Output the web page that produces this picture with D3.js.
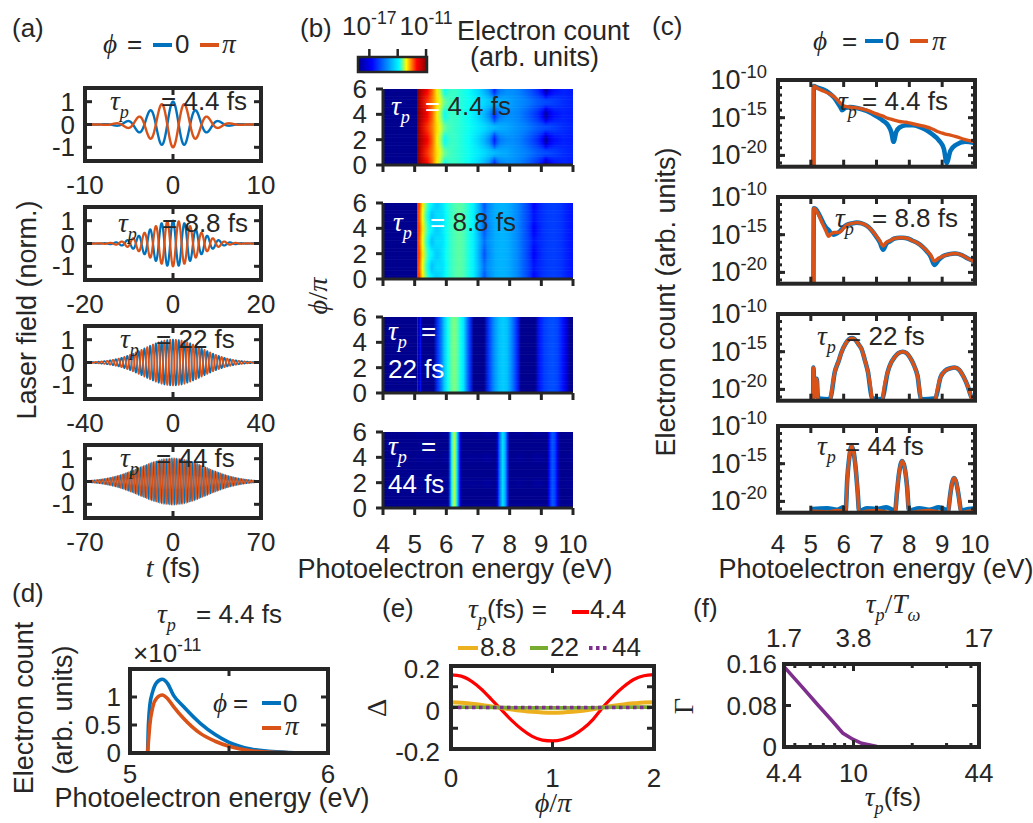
<!DOCTYPE html>
<html>
<head>
<meta charset="utf-8">
<script src="https://cdn.jsdelivr.net/npm/d3@7"></script>
<style>
body { margin: 0; background: #fff; }
text { font-family: "Liberation Sans", Arial, Helvetica, sans-serif; fill: #262626; }
.m { font-family: "Liberation Serif", "DejaVu Serif", serif; font-style: italic; }
.u { font-family: "Liberation Serif", "DejaVu Serif", serif; }
</style>
</head>
<body>
<svg id="fig" width="1033" height="823"></svg>
<script>
// ---------------- data ----------------

// (a) laser pulses (fs): intensity FWHM, half width of the plotted window, carrier period
var pulseTau = [4.4, 8.8, 22, 44];
var pulseWin = [10, 20, 40, 70];
var carrierPeriod = 2.6;
var cepPhase = [0, Math.PI];

// (b)/(c) photoelectron spectra, log10(count), for phi = 0 and phi = pi
var energy4p4 = [4.0, 5.07, 5.09, 5.2, 5.4, 5.55, 5.7, 5.8, 5.9, 5.95, 6.05, 6.2, 6.4, 6.7, 7.0, 7.2, 7.35, 7.45, 7.52, 7.6, 7.7, 7.9, 8.1, 8.3, 8.5, 8.7, 8.9, 9.05, 9.14, 9.25, 9.42, 9.7, 10.0];
var phi0_4p4 = [-30, -30, -10.8, -11.0, -11.3, -11.7, -12.3, -12.9, -13.6, -14.0, -13.7, -13.6, -13.7, -14.1, -14.8, -15.4, -16.0, -16.9, -18.2, -16.9, -16.3, -16.0, -16.0, -16.2, -16.6, -17.2, -18.0, -19.1, -21.0, -19.4, -18.6, -18.2, -18.4];
var phiPi_4p4 = [-30, -30, -10.8, -11.1, -11.5, -11.8, -12.2, -12.6, -13.1, -13.3, -13.5, -13.6, -13.7, -14.0, -14.5, -14.8, -15.1, -15.2, -15.3, -15.4, -15.5, -15.6, -15.8, -16.0, -16.2, -16.5, -16.9, -17.1, -17.2, -17.3, -17.5, -17.9, -18.2];

var energy8p8 = [4.0, 5.07, 5.09, 5.15, 5.25, 5.35, 5.45, 5.54, 5.62, 5.7, 5.8, 5.9, 6.0, 6.1, 6.25, 6.4, 6.55, 6.7, 6.85, 7.0, 7.1, 7.2, 7.3, 7.4, 7.55, 7.7, 7.8, 7.95, 8.1, 8.25, 8.4, 8.55, 8.65, 8.76, 8.9, 9.05, 9.2, 9.4, 9.6, 9.8, 10.0];
var phi0_8p8 = [-30, -30, -11.5, -11.6, -12.3, -13.2, -14.0, -14.4, -14.8, -15.0, -14.8, -14.5, -14.0, -13.7, -13.5, -13.4, -13.5, -13.8, -14.4, -15.3, -16.0, -17.0, -16.2, -15.9, -15.5, -15.4, -15.4, -15.5, -15.8, -16.1, -16.6, -17.3, -17.9, -19.0, -18.3, -17.8, -17.6, -17.5, -17.7, -18.2, -18.6];
var phiPi_8p8 = [-30, -30, -11.5, -11.7, -12.5, -13.5, -14.4, -15.2, -14.9, -14.7, -14.7, -14.6, -14.1, -13.7, -13.5, -13.4, -13.5, -13.8, -14.4, -15.2, -15.8, -16.5, -16.0, -15.8, -15.5, -15.4, -15.4, -15.5, -15.8, -16.1, -16.6, -17.2, -17.7, -18.5, -18.1, -17.8, -17.6, -17.5, -17.7, -18.2, -18.6];

var energy22 = [4.0, 5.06, 5.08, 5.1, 5.13, 5.16, 5.18, 5.21, 5.25, 5.55, 5.6, 5.73, 5.85, 5.93, 6.05, 6.15, 6.25, 6.35, 6.45, 6.54, 6.65, 6.74, 6.86, 6.9, 7.15, 7.19, 7.34, 7.45, 7.54, 7.67, 7.8, 7.92, 8.05, 8.15, 8.25, 8.35, 8.4, 8.75, 8.8, 8.95, 9.1, 9.25, 9.38, 9.52, 9.66, 9.78, 9.84, 9.9, 10.0];
var phi0_22 = [-30, -30, -17.1, -19.5, -20.8, -19.5, -18.6, -20.8, -21.2, -21.3, -21.1, -17.7, -16.2, -15.1, -14.0, -13.4, -13.2, -13.4, -14.0, -14.6, -16.2, -17.7, -21.1, -21.2, -21.3, -21.1, -17.7, -16.4, -15.8, -15.2, -15.0, -15.2, -16.0, -16.9, -18.2, -21.2, -21.3, -21.2, -21.1, -18.4, -17.5, -17.2, -17.1, -17.4, -18.4, -19.6, -20.4, -21.1, -21.2];
var phiPi_22 = [-30, -30, -17.1, -19.5, -20.8, -19.5, -18.6, -20.8, -23, -23, -21.3, -17.7, -16.2, -15.1, -14.0, -13.4, -13.2, -13.4, -14.0, -14.6, -16.2, -17.7, -21.1, -23, -23, -21.1, -17.7, -16.4, -15.8, -15.2, -15.0, -15.2, -16.0, -16.9, -18.2, -21.3, -23, -23, -21.3, -18.4, -17.5, -17.2, -17.1, -17.4, -18.4, -19.6, -20.4, -21.3, -23];

var energy44 = [4.0, 5.04, 5.06, 5.5, 5.8, 6.0, 6.06, 6.11, 6.17, 6.24, 6.31, 6.37, 6.43, 6.47, 6.7, 7.0, 7.3, 7.57, 7.62, 7.68, 7.78, 7.86, 7.93, 7.99, 8.3, 8.6, 8.9, 9.18, 9.24, 9.3, 9.36, 9.43, 9.5, 9.58, 9.8, 10.0];
var phi0_44 = [-30, -30, -21.0, -20.9, -21.1, -20.8, -21.2, -17.0, -14.2, -12.7, -13.6, -15.8, -19.0, -21.3, -20.9, -21.0, -20.8, -21.2, -19.0, -16.5, -14.65, -15.6, -18.0, -21.2, -20.9, -21.1, -20.8, -21.2, -19.3, -17.6, -16.9, -17.5, -19.2, -21.2, -21.0, -20.9];
var phiPi_44 = [-30, -30, -21.3, -21.4, -21.2, -21.3, -21.5, -17.0, -14.2, -12.7, -13.6, -15.8, -19.0, -21.5, -21.3, -21.2, -21.4, -21.5, -19.0, -16.5, -14.65, -15.6, -18.0, -21.5, -21.3, -21.2, -21.4, -21.5, -19.3, -17.6, -16.9, -17.5, -19.2, -21.5, -21.3, -21.2];

var tauLabels = ["4.4", "8.8", "22", "44"];

// (d) linear spectrum for tau_p = 4.4 fs (units of 1e-11)
var dEnergy = [5.0, 5.088, 5.093, 5.1, 5.115, 5.135, 5.163, 5.19, 5.22, 5.27, 5.355, 5.43, 5.5, 5.61, 5.7, 5.8, 5.9, 6.0];
var dPhi0 = [0, 0, 0.5, 0.85, 1.1, 1.26, 1.316, 1.24, 1.03, 0.83, 0.53, 0.33, 0.19, 0.07, 0.03, 0.01, 0.003, 0];
var dPhiPi = [0, 0, 0.2, 0.5, 0.82, 0.98, 1.035, 0.97, 0.83, 0.62, 0.35, 0.21, 0.12, 0.04, 0.015, 0.005, 0.001, 0];

// (e) asymmetry Delta vs phi/pi
var ePhi = [0, 0.1, 0.2, 0.3, 0.4, 0.5, 0.6, 0.7, 0.8, 0.9, 1.0, 1.1, 1.2, 1.3, 1.4, 1.5, 1.6, 1.7, 1.8, 1.9, 2.0];
var eDelta4p4 = [0.157, 0.151, 0.127, 0.088, 0.038, -0.013, -0.063, -0.106, -0.139, -0.157, -0.161, -0.154, -0.135, -0.103, -0.057, 0.003, 0.055, 0.1, 0.135, 0.153, 0.158];
var eDelta8p8 = [0.025, 0.023, 0.018, 0.012, 0.005, -0.003, -0.01, -0.016, -0.021, -0.024, -0.025, -0.024, -0.021, -0.016, -0.009, 0.0, 0.008, 0.015, 0.02, 0.024, 0.025];
var eDelta22 = [0.002, 0.002, 0.001, 0.001, 0, 0, -0.001, -0.001, -0.002, -0.002, -0.002, -0.002, -0.002, -0.001, -0.001, 0, 0.001, 0.001, 0.002, 0.002, 0.002];
var eDelta44 = [0, 0, 0, 0, 0, 0, 0, 0, 0, 0, 0, 0, 0, 0, 0, 0, 0, 0, 0, 0, 0];

// (f) Gamma vs tau_p
var fTau = [4.4, 5.5, 6.6, 7.7, 8.8, 9.9, 11, 13.2, 17.6, 22, 33, 44];
var fGamma = [0.155, 0.114, 0.08, 0.052, 0.027, 0.015, 0.007, 0.001, 0, 0, 0, 0];
var fTicks = [4.4, 10, 44];
var fTopLabels = ["1.7", "3.8", "17"];
var fMinor = [5, 6, 7, 8, 9, 20, 30, 40];

// ---------------- setup ----------------
var ink = "#262626", white = "#ffffff";
var cBlue = "#0072BD", cOrange = "#D95319";
var svg = d3.select("#fig");
var defs = svg.append("defs");

var spectra = [
  { E: energy4p4, v0: phi0_4p4, vPi: phiPi_4p4 },
  { E: energy8p8, v0: phi0_8p8, vPi: phiPi_8p8 },
  { E: energy22, v0: phi0_22, vPi: phiPi_22 },
  { E: energy44, v0: phi0_44, vPi: phiPi_44 }
];

// text made of sans / math pieces
function rich(g, x, y, parts, o) {
  o = o || {};
  var fs = o.size || 26;
  var t = g.append("text").attr("font-size", fs).attr("text-anchor", o.anchor || "start");
  if (o.rot) t.attr("transform", "translate(" + x + "," + y + ") rotate(-90)");
  else t.attr("x", x).attr("y", y);
  var cur = 0;
  parts.forEach(function(p) {
    if (typeof p === "string") p = { t: p };
    var s = t.append("tspan").text(p.t);
    var size = fs, off = 0;
    if (p.m) { s.attr("class", p.m === 2 ? "u" : "m"); size = fs * 1.05; }
    if (p.sub) { size = fs * 0.7; off = fs * 0.3; }
    if (p.sup) { size = fs * 0.68; off = -fs * 0.42; }
    s.attr("font-size", size);
    if (off !== cur) { s.attr("dy", off - cur); cur = off; }
    if (p.fill) s.style("fill", p.fill);
  });
  return t;
}

var tauP = function(fill) { return [{ t: "τ", m: 1, fill: fill }, { t: "p", m: 1, sub: 1, fill: fill }]; };

// "tau_p = value" with the "=" placed separately, as in the figure
function tauLabel(g, x, xEq, y, value, fillTau, fillEq, fillVal) {
  rich(g, x, y, tauP(fillTau));
  rich(g, xEq, y, [{ t: "= ", fill: fillEq }, { t: value, fill: fillVal }]);
}

function frame(g, w, h, xs, ys, xt, yt, xm, ym) {
  var tk = g.append("g").attr("stroke", ink).attr("stroke-width", 3);
  function xtick(v, L) {
    var x = xs(v);
    tk.append("line").attr("x1", x).attr("x2", x).attr("y1", h).attr("y2", h - L);
    tk.append("line").attr("x1", x).attr("x2", x).attr("y1", 0).attr("y2", L);
  }
  function ytick(v, L) {
    var y = ys(v);
    tk.append("line").attr("x1", 0).attr("x2", L).attr("y1", y).attr("y2", y);
    tk.append("line").attr("x1", w).attr("x2", w - L).attr("y1", y).attr("y2", y);
  }
  xt.forEach(function(v) { xtick(v, 7); });
  yt.forEach(function(v) { ytick(v, 7); });
  (xm || []).forEach(function(v) { xtick(v, 4); });
  (ym || []).forEach(function(v) { ytick(v, 4); });
  g.append("rect").attr("width", w).attr("height", h).attr("fill", "none")
    .attr("stroke", ink).attr("stroke-width", 4);
}

function clip(id, w, h) {
  defs.append("clipPath").attr("id", id).append("rect").attr("width", w).attr("height", h);
  return "url(#" + id + ")";
}

function legendLine(g, x1, x2, y, color, dash) {
  g.append("line").attr("x1", x1).attr("x2", x2).attr("y1", y).attr("y2", y)
    .attr("stroke", color).attr("stroke-width", 4).attr("stroke-dasharray", dash || null);
}

// ---------------- (a) laser field ----------------
rich(svg, 12, 37, ["(a)"]);
rich(svg, 103, 53, [{ t: "ϕ", m: 1 }]);
rich(svg, 127, 53, ["="]);
legendLine(svg, 153, 172, 45, cBlue);
rich(svg, 175, 53, ["0"]);
legendLine(svg, 200, 219, 45, cOrange);
rich(svg, 222, 53, [{ t: "π", m: 1 }]);

var aLeft = 85, aW = 176, aH = 73, aTop = [88, 207, 326, 445];
var aTauX = [110, 118, 120, 120], aEqX = [161, 162, 156, 156], aTauY = [110, 232, 348, 467];
var aWidth = [2.4, 2.2, 1.7, 1.25];
pulseTau.forEach(function(tp, i) {
  var g = svg.append("g").attr("transform", "translate(" + aLeft + "," + aTop[i] + ")");
  var T = pulseWin[i];
  var x = d3.scaleLinear().domain([-T, T]).range([0, aW]);
  var y = d3.scaleLinear().domain([-1.6, 1.6]).range([aH, 0]);
  var ts = d3.range(-T, T + 1e-9, T / 1500);
  var cp = clip("ca" + i, aW, aH);
  cepPhase.forEach(function(ph, k) {
    var line = d3.line()
      .x(function(t) { return x(t); })
      .y(function(t) {
        return y(Math.exp(-2 * Math.LN2 * t * t / (tp * tp)) * Math.cos(2 * Math.PI * t / carrierPeriod + ph));
      });
    g.append("path").attr("d", line(ts)).attr("fill", "none").attr("clip-path", cp)
      .attr("stroke", k ? cOrange : cBlue).attr("stroke-width", aWidth[i]);
  });
  frame(g, aW, aH, x, y, [-T, 0, T], [-1, 0, 1]);
  [-1, 0, 1].forEach(function(v) { rich(g, -10, y(v) + 9, [String(v)], { anchor: "end" }); });
  [-T, 0, T].forEach(function(v) { rich(g, x(v), aH + 33, [String(v)], { anchor: "middle" }); });
  tauLabel(svg, aTauX[i], aEqX[i], aTauY[i], tauLabels[i] + " fs");
});
rich(svg, 36, 310, ["Laser field (norm.)"], { rot: 1, anchor: "middle", size: 27 });
rich(svg, 173, 577, [{ t: "t", m: 1 }, " (fs)"], { anchor: "middle", size: 27 });

// ---------------- (b) heat maps ----------------
var jet = d3.scaleLinear().domain([0, 0.125, 0.375, 0.625, 0.875, 1])
  .range(["#00008f", "#0000ff", "#00ffff", "#ffff00", "#ff0000", "#800000"]);
var heatT = d3.scaleLinear().domain([-21.1, -19.5, -16.7, -13.8, -12.2, -10.8])
  .range([0, 0.1, 0.22, 0.4, 0.66, 1]).clamp(true);
function heatColor(v) { return jet(heatT(v)); }

rich(svg, 300, 37, ["(b)"]);
var bX = d3.scaleLinear().domain([4, 10]).range([383, 573]);
var bTop = [89, 203, 317, 432], bH = 76;
var phiStep = 0.125;
var phiRows = d3.range(0, 6 + 1e-9, phiStep);
spectra.forEach(function(s, i) {
  var g = svg.append("g").attr("transform", "translate(0," + bTop[i] + ")");
  var y = d3.scaleLinear().domain([0, 6]).range([bH, 0]);
  defs.append("clipPath").attr("id", "cb" + i).append("rect")
    .attr("x", bX(4)).attr("width", bX(10) - bX(4)).attr("height", bH);
  var hm = g.append("g").attr("clip-path", "url(#cb" + i + ")");
  phiRows.forEach(function(ph, j) {
    var w0 = (1 + Math.cos(Math.PI * ph)) / 2;
    var gid = "hg" + i + "_" + j;
    var grad = defs.append("linearGradient").attr("id", gid).attr("gradientUnits", "userSpaceOnUse")
      .attr("x1", bX(4)).attr("x2", bX(10)).attr("y1", 0).attr("y2", 0);
    s.E.forEach(function(e, k) {
      var v = w0 * s.v0[k] + (1 - w0) * s.vPi[k];
      grad.append("stop").attr("offset", (e - 4) / 6).attr("stop-color", heatColor(v));
    });
    hm.append("rect").attr("x", bX(4)).attr("y", y(ph + phiStep / 2))
      .attr("width", bX(10) - bX(4)).attr("height", y(0) - y(phiStep) + 0.6)
      .attr("fill", "url(#" + gid + ")");
  });
  var ax = g.append("g").attr("stroke", ink).attr("stroke-width", 3);
  ax.append("line").attr("x1", bX(4)).attr("x2", bX(4)).attr("y1", 0).attr("y2", bH);
  ax.append("line").attr("x1", bX(4)).attr("x2", bX(10)).attr("y1", bH).attr("y2", bH);
  [0, 2, 4, 6].forEach(function(v) {
    ax.append("line").attr("x1", bX(4)).attr("x2", bX(4) - 7).attr("y1", y(v)).attr("y2", y(v));
    rich(g, 367, y(v) + 9, [String(v)], { anchor: "end" });
  });
  d3.range(4, 11).forEach(function(v) {
    ax.append("line").attr("x1", bX(v)).attr("x2", bX(v)).attr("y1", bH).attr("y2", bH + 7);
  });
});
d3.range(4, 11).forEach(function(v) { rich(svg, bX(v), 553, [String(v)], { anchor: "middle" }); });
rich(svg, 455, 578, ["Photoelectron energy (eV)"], { anchor: "middle", size: 27 });
rich(svg, 327, 296, [{ t: "ϕ", m: 1 }, { t: "/", m: 2 }, { t: "π", m: 1 }], { rot: 1, anchor: "middle", size: 27 });
tauLabel(svg, 391, 425, 115, "4.4 fs", white, white, ink);
tauLabel(svg, 393, 430, 231, "8.8 fs", white, white, ink);
rich(svg, 388, 340, tauP(white));
rich(svg, 421, 340, [{ t: "=", fill: white }]);
rich(svg, 388, 378, [{ t: "22 fs", fill: white }]);
rich(svg, 388, 455, tauP(white));
rich(svg, 421, 455, [{ t: "=", fill: white }]);
rich(svg, 388, 493, [{ t: "44 fs", fill: white }]);

// colour bar
var cbX = d3.scaleLinear().domain([-18.2, -10.9]).range([358, 427]);
var cbGrad = defs.append("linearGradient").attr("id", "cbar");
[[0, 0], [0.2, 0.125], [0.6, 0.375], [0.7, 0.625], [0.85, 0.875], [1, 1]].forEach(function(p) {
  cbGrad.append("stop").attr("offset", p[0]).attr("stop-color", jet(p[1]));
});
svg.append("rect").attr("x", cbX(-18.2)).attr("y", 57).attr("width", cbX(-10.9) - cbX(-18.2)).attr("height", 15)
  .attr("fill", "url(#cbar)").attr("stroke", ink).attr("stroke-width", 2.5);
[-17, -14, -11].forEach(function(v) {
  svg.append("line").attr("x1", cbX(v)).attr("x2", cbX(v)).attr("y1", 57).attr("y2", 49)
    .attr("stroke", ink).attr("stroke-width", 2.5);
});
rich(svg, cbX(-17), 35, ["10", { t: "-17", sup: 1 }], { anchor: "middle" });
rich(svg, cbX(-11), 35, ["10", { t: "-11", sup: 1 }], { anchor: "middle" });
rich(svg, 457, 40, ["Electron count"], { size: 27 });
rich(svg, 470, 66, ["(arb. units)"], { size: 27 });

// ---------------- (c) log spectra ----------------
rich(svg, 652, 35, ["(c)"]);
rich(svg, 813, 50, [{ t: "ϕ", m: 1 }]);
rich(svg, 842, 50, ["="]);
legendLine(svg, 865, 883, 41, cBlue);
rich(svg, 885, 50, ["0"]);
legendLine(svg, 910, 928, 41, cOrange);
rich(svg, 932, 50, [{ t: "π", m: 1 }]);

var cX = d3.scaleLinear().domain([4, 10]).range([0, 197]);
var cLeft = 778, cTop = [80, 197, 314, 426], cH = 86.7;
var cTauX = [838, 835, 817, 817], cEqX = [862, 872, 846, 845], cTauY = [110, 227, 345, 455];
spectra.forEach(function(s, i) {
  var g = svg.append("g").attr("transform", "translate(" + cLeft + "," + cTop[i] + ")");
  var y = d3.scaleLinear().domain([-21.5, -10]).range([cH, 0]);
  var cp = clip("cc" + i, 197, cH);
  var line = d3.line().curve(d3.curveMonotoneX);
  [[s.v0, cBlue, 4.6], [s.vPi, cOrange, 3.4]].forEach(function(c) {
    var pts = s.E.map(function(e, k) { return [cX(e), y(c[0][k])]; });
    g.append("path").attr("d", line(pts)).attr("fill", "none").attr("clip-path", cp)
      .attr("stroke", c[1]).attr("stroke-width", c[2]).attr("stroke-linejoin", "round");
  });
  frame(g, 197, cH, cX, y, d3.range(4, 11), [-20, -15, -10], [], d3.range(-21, -10));
  [-10, -15, -20].forEach(function(v) {
    rich(g, -11, y(v) + 9, ["10", { t: String(v), sup: 1 }], { anchor: "end", size: 27 });
  });
  tauLabel(svg, cTauX[i], cEqX[i], cTauY[i], tauLabels[i] + " fs");
});
d3.range(4, 11).forEach(function(v) { rich(svg, cLeft + cX(v), 553, [String(v)], { anchor: "middle" }); });
rich(svg, 876, 578, ["Photoelectron energy (eV)"], { anchor: "middle", size: 27 });
rich(svg, 675, 302, ["Electron count (arb. units)"], { rot: 1, anchor: "middle", size: 27 });

// ---------------- (d) linear spectrum ----------------
rich(svg, 12, 602, ["(d)"]);
(function() {
  var w = 198, h = 84;
  var g = svg.append("g").attr("transform", "translate(130,669)");
  var x = d3.scaleLinear().domain([5, 6]).range([0, w]);
  var y = d3.scaleLinear().domain([0, 1.5]).range([h, 0]);
  var line = d3.line().curve(d3.curveMonotoneX).x(function(d) { return x(d[0]); }).y(function(d) { return y(d[1]); });
  var cp = clip("cd", w, h);
  [[dPhi0, cBlue], [dPhiPi, cOrange]].forEach(function(c) {
    g.append("path").attr("d", line(dEnergy.map(function(e, k) { return [e, c[0][k]]; })))
      .attr("fill", "none").attr("stroke", c[1]).attr("stroke-width", 3.6).attr("clip-path", cp);
  });
  frame(g, w, h, x, y, [5, 5.5, 6], [0, 0.5, 1]);
  [0, 0.5, 1].forEach(function(v) { rich(g, -9, y(v) + 9, [String(v)], { anchor: "end" }); });
  [5, 6].forEach(function(v) { rich(g, x(v), 114, [String(v)], { anchor: "middle" }); });
  rich(g, 83, 43, [{ t: "ϕ", m: 1 }]);
  rich(g, 103, 43, ["="]);
  legendLine(g, 132, 151, 34, cBlue);
  rich(g, 153, 43, ["0"]);
  legendLine(g, 132, 151, 59, cOrange);
  rich(g, 155, 66, [{ t: "π", m: 1 }]);
})();
tauLabel(svg, 157, 196, 623, "4.4 fs");
rich(svg, 133, 662, ["×10", { t: "-11", sup: 1 }]);
rich(svg, 33, 708, ["Electron count"], { rot: 1, anchor: "middle", size: 27 });
rich(svg, 72, 710, ["(arb. units)"], { rot: 1, anchor: "middle", size: 27 });
rich(svg, 212, 807, ["Photoelectron energy (eV)"], { anchor: "middle", size: 27 });

// ---------------- (e) asymmetry ----------------
rich(svg, 382, 617, ["(e)"]);
(function() {
  var w = 203, h = 83;
  var g = svg.append("g").attr("transform", "translate(451,666)");
  var x = d3.scaleLinear().domain([0, 2]).range([0, w]);
  var y = d3.scaleLinear().domain([-0.2, 0.2]).range([h, 0]);
  var line = d3.line().curve(d3.curveMonotoneX).x(function(d) { return x(d[0]); }).y(function(d) { return y(d[1]); });
  var cp = clip("ce", w, h);
  var series = [[eDelta4p4, "#FF0000", 3.2, null], [eDelta8p8, "#EDB120", 4, null],
                [eDelta22, "#77AC30", 3.6, null], [eDelta44, "#7E2F8E", 3.6, "3.5,3.5"]];
  series.forEach(function(sr) {
    g.append("path").attr("d", line(ePhi.map(function(p, k) { return [p, sr[0][k]]; })))
      .attr("fill", "none").attr("stroke", sr[1]).attr("stroke-width", sr[2])
      .attr("stroke-dasharray", sr[3]).attr("clip-path", cp);
  });
  frame(g, w, h, x, y, [0, 1, 2], [-0.2, -0.1, 0, 0.1, 0.2]);
  [-0.2, 0, 0.2].forEach(function(v) { rich(g, -11, y(v) + 12, [String(v)], { anchor: "end" }); });
  [0, 1, 2].forEach(function(v) { rich(g, x(v), 121, [String(v)], { anchor: "middle" }); });
})();
rich(svg, 468, 618, tauP().concat(["(fs) ="]));
legendLine(svg, 572, 589, 612, "#FF0000");
rich(svg, 590, 618, ["4.4"]);
legendLine(svg, 458, 478, 648, "#EDB120");
rich(svg, 480, 656, ["8.8"]);
legendLine(svg, 530, 548, 648, "#77AC30");
rich(svg, 550, 656, ["22"]);
legendLine(svg, 589, 610, 648, "#7E2F8E", "3.5,3.5");
rich(svg, 612, 656, ["44"]);
rich(svg, 386, 708, [{ t: "Δ", m: 2 }], { rot: 1, anchor: "middle", size: 27 });
rich(svg, 553, 812, [{ t: "ϕ", m: 1 }, { t: "/", m: 2 }, { t: "π", m: 1 }], { anchor: "middle", size: 27 });

// ---------------- (f) Gamma ----------------
rich(svg, 693, 617, ["(f)"]);
(function() {
  var w = 195, h = 83;
  var g = svg.append("g").attr("transform", "translate(784,664)");
  var x = d3.scaleLog().domain([4.4, 44]).range([0, w]);
  var y = d3.scaleLinear().domain([0, 0.16]).range([h, 0]);
  var cp = clip("cf", w, h);
  var line = d3.line().x(function(d) { return x(d[0]); }).y(function(d) { return y(d[1]); });
  g.append("path").attr("d", line(fTau.map(function(t, k) { return [t, fGamma[k]]; })))
    .attr("fill", "none").attr("stroke", "#7E2F8E").attr("stroke-width", 3.6).attr("clip-path", cp);
  frame(g, w, h, x, y, fTicks, [0, 0.08, 0.16], fMinor, []);
  [0, 0.08, 0.16].forEach(function(v) { rich(g, -7, y(v) + 9, [String(v)], { anchor: "end" }); });
  fTicks.forEach(function(v, k) {
    rich(g, x(v), 118, [String(v)], { anchor: "middle" });
    rich(g, x(v), -17, [fTopLabels[k]], { anchor: "middle" });
  });
})();
rich(svg, 893, 613, [{ t: "τ", m: 1 }, { t: "p", m: 1, sub: 1 }, { t: "/", m: 2 }, { t: "T", m: 1 }, { t: "ω", m: 1, sub: 1 }], { anchor: "middle" });
rich(svg, 893, 806, tauP().concat(["(fs)"]), { anchor: "middle" });
rich(svg, 693, 706, [{ t: "Γ", m: 2 }], { rot: 1, anchor: "middle", size: 27 });
</script>
</body>
</html>
